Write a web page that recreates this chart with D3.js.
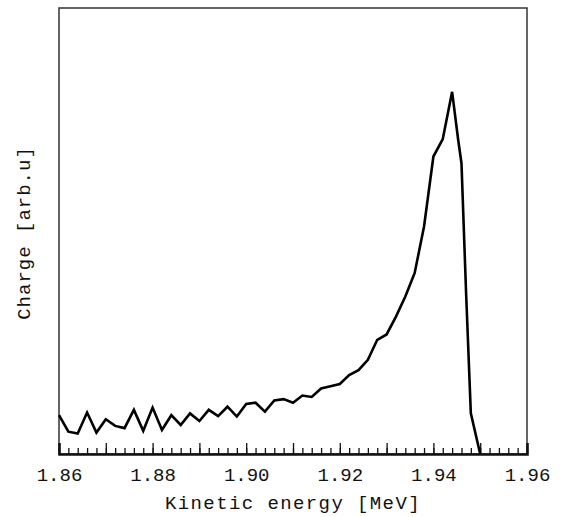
<!DOCTYPE html>
<html>
<head>
<meta charset="utf-8">
<script src="https://cdn.jsdelivr.net/npm/d3@7"></script>
<style>
  body { margin: 0; background: #fff; }
  text { font-family: 'Liberation Mono', 'DejaVu Sans Mono', monospace; fill: #111; }
</style>
</head>
<body>
<div id='chart'></div>
<script>

// Data (energy in MeV, charge in arbitrary units)
const energy = [
  1.860, 1.862, 1.864, 1.866, 1.868, 1.870, 1.872, 1.874, 1.876, 1.878,
  1.880, 1.882, 1.884, 1.886, 1.888, 1.890, 1.892, 1.894, 1.896, 1.898,
  1.900, 1.902, 1.904, 1.906, 1.908, 1.910, 1.912, 1.914, 1.916, 1.918,
  1.920, 1.922, 1.924, 1.926, 1.928, 1.930, 1.932, 1.934, 1.936, 1.938,
  1.940, 1.942, 1.944, 1.9453, 1.946, 1.947, 1.948, 1.950
];
const charge = [
  8.7, 5.0, 4.6, 9.3, 4.8, 7.8, 6.3, 5.8, 9.9, 5.2,
  10.4, 5.4, 8.7, 6.5, 9.1, 7.4, 9.9, 8.5, 10.6, 8.4,
  11.2, 11.5, 9.5, 12.0, 12.3, 11.5, 13.1, 12.8, 14.7, 15.2,
  15.7, 17.7, 18.8, 21.1, 25.6, 26.8, 30.8, 35.3, 40.6, 51.0,
  66.7, 70.6, 81.2, 70.4, 65.2, 35.7, 9.1, 0
];
const xTickLabels = [1.86, 1.88, 1.90, 1.92, 1.94, 1.96];
const xMajorTicks = d3.range(1.86, 1.9601, 0.01);
const xMinorTicks = d3.range(1.86, 1.9601, 0.002);

// Page Dimensions
const W = 561, H = 517;
const margin = {top: 8, right: 34, bottom: 63, left: 59};
const width = W - margin.left - margin.right;
const height = H - margin.top - margin.bottom;

const svg = d3.select('div#chart').append('svg')
  .attr('width', W)
  .attr('height', H);

const g = svg.append('g')
  .attr('transform', `translate(${margin.left},${margin.top})`);

const x = d3.scaleLinear().domain([1.86, 1.96]).range([0, width]);
const y = d3.scaleLinear().domain([0, 100]).range([height, 0]);

// Frame
g.append('rect')
  .attr('width', width)
  .attr('height', height)
  .attr('fill', 'none')
  .attr('stroke', '#333')
  .attr('stroke-width', 1.5);

// Minor ticks (inside, pointing up)
g.append('g')
  .attr('transform', `translate(0,${height})`)
  .call(d3.axisBottom(x).tickValues(xMinorTicks).tickSize(-6).tickFormat(''))
  .call(a => a.select('.domain').remove())
  .selectAll('line').attr('stroke', '#111').attr('stroke-width', 1.3);

// Major ticks + labels
const xAxis = g.append('g')
  .attr('transform', `translate(0,${height})`)
  .call(d3.axisBottom(x).tickValues(xMajorTicks).tickSize(-11)
    .tickFormat(d => xTickLabels.some(v => Math.abs(v - d) < 1e-6) ? d3.format('.2f')(d) : ''));
xAxis.select('.domain').attr('stroke', '#111').attr('stroke-width', 2.5);
xAxis.selectAll('line').attr('stroke', '#111').attr('stroke-width', 1.3);
xAxis.selectAll('text')
  .attr('y', 14)
  .attr('dy', '0.71em')
  .style('font-size', '19px')
  .style('font-family', "'Liberation Mono', monospace")
  .attr('fill', '#111');

// Axis titles
svg.append('text')
  .attr('x', 293)
  .attr('y', 509)
  .attr('text-anchor', 'middle')
  .style('font-size', '19px')
  .style('letter-spacing', '1.4px')
  .text('Kinetic energy [MeV]');

svg.append('text')
  .attr('transform', 'translate(30,233) rotate(-90)')
  .attr('text-anchor', 'middle')
  .style('font-size', '19px')
  .style('letter-spacing', '1px')
  .text('Charge [arb.u]');

// Spectrum line
const line = d3.line()
  .x((d, i) => x(energy[i]))
  .y(d => y(d));

g.append('path')
  .datum(charge)
  .attr('d', line)
  .attr('fill', 'none')
  .attr('stroke', '#000')
  .attr('stroke-width', 2.6)
  .attr('stroke-linejoin', 'miter');

</script>
</body>
</html>
